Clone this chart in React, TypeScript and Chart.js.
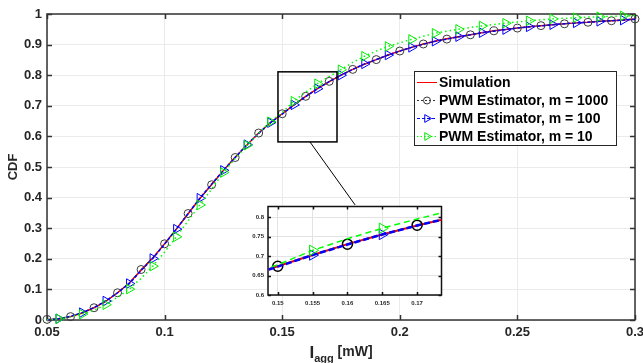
import React, { useEffect, useRef } from "react";
import { Chart, registerables } from "chart.js";
Chart.register(...registerables);

// ---------------- data ----------------
const xValues = [
  0.05, 0.055, 0.06, 0.065, 0.07, 0.075, 0.08, 0.085, 0.09, 0.095,
  0.1, 0.105, 0.11, 0.115, 0.12, 0.125, 0.13, 0.135, 0.14, 0.145,
  0.15, 0.155, 0.16, 0.165, 0.17, 0.175, 0.18, 0.185, 0.19, 0.195,
  0.2, 0.205, 0.21, 0.215, 0.22, 0.225, 0.23, 0.235, 0.24, 0.245,
  0.25, 0.255, 0.26, 0.265, 0.27, 0.275, 0.28, 0.285, 0.29, 0.295, 0.3,
];
const simulation = [
  0.0, 0.004, 0.011, 0.023, 0.04, 0.061, 0.089, 0.121, 0.163, 0.203,
  0.249, 0.297, 0.347, 0.397, 0.443, 0.489, 0.532, 0.572, 0.611, 0.645,
  0.674, 0.703, 0.731, 0.756, 0.779, 0.8, 0.819, 0.836, 0.851, 0.866,
  0.879, 0.891, 0.902, 0.911, 0.919, 0.926, 0.932, 0.939, 0.945, 0.949,
  0.954, 0.958, 0.962, 0.965, 0.968, 0.971, 0.973, 0.976, 0.978, 0.98, 0.983,
];
const pwm1000 = [
  0.002, 0.005, 0.011, 0.024, 0.04, 0.062, 0.089, 0.122, 0.165, 0.205,
  0.249, 0.298, 0.348, 0.396, 0.442, 0.488, 0.531, 0.571, 0.611, 0.644,
  0.674, 0.703, 0.731, 0.756, 0.78, 0.8, 0.819, 0.836, 0.851, 0.865,
  0.879, 0.891, 0.902, 0.91, 0.918, 0.925, 0.932, 0.939, 0.945, 0.95,
  0.954, 0.958, 0.962, 0.965, 0.968, 0.97, 0.973, 0.976, 0.978, 0.981, 0.984,
];
const pwm100 = [
  0.0, 0.004, 0.012, 0.024, 0.041, 0.062, 0.089, 0.119, 0.162, 0.201,
  0.248, 0.297, 0.348, 0.398, 0.444, 0.489, 0.531, 0.573, 0.61, 0.645,
  0.673, 0.703, 0.73, 0.756, 0.779, 0.8, 0.819, 0.837, 0.851, 0.866,
  0.879, 0.891, 0.901, 0.911, 0.918, 0.926, 0.932, 0.939, 0.944, 0.949,
  0.954, 0.958, 0.961, 0.965, 0.968, 0.971, 0.973, 0.976, 0.978, 0.98, 0.983,
];
const pwm10 = [
  0.0, 0.004, 0.01, 0.019, 0.032, 0.05, 0.074, 0.101, 0.136, 0.176,
  0.222, 0.272, 0.324, 0.376, 0.428, 0.482, 0.528, 0.571, 0.611, 0.648,
  0.678, 0.715, 0.745, 0.772, 0.796, 0.818, 0.842, 0.862, 0.879, 0.894,
  0.906, 0.917, 0.927, 0.937, 0.944, 0.95, 0.956, 0.961, 0.966, 0.97,
  0.974, 0.978, 0.981, 0.984, 0.986, 0.988, 0.99, 0.991, 0.992, 0.994, 0.995,
];
const seriesLabels = [
  "Simulation",
  "PWM Estimator, m = 1000",
  "PWM Estimator, m = 100",
  "PWM Estimator, m = 10",
];
const xTicks = [0.05, 0.1, 0.15, 0.2, 0.25, 0.3];
const yTicks = [0, 0.1, 0.2, 0.3, 0.4, 0.5, 0.6, 0.7, 0.8, 0.9, 1];
const insetXTicks = [0.15, 0.155, 0.16, 0.165, 0.17];
const insetYTicks = [0.6, 0.65, 0.7, 0.75, 0.8];
const insetXRange = [0.1486, 0.1735];
const insetYRange = [0.6, 0.828];
const zoomX = [0.1482, 0.1733];
const zoomY = [0.582, 0.811];
const connectorFrom = [0.1618, 0.582];
const connectorTo = [0.181, 0.376];
const yTitle = "CDF";
const xTitleMain = "I";
const xTitleSub = "agg";
const xTitleUnit = "[mW]";

// ---------------- helpers ----------------
const FONT = '"Liberation Sans", Arial, Helvetica, sans-serif';
const fmt = (v: number) => String(+(+v).toFixed(4));
const pts = (arr: number[]) => xValues.map((x, i) => ({ x, y: arr[i] }));

function drawMarker(ctx: CanvasRenderingContext2D, style: string, x: number, y: number, r: number) {
  ctx.beginPath();
  if (style === "circle") {
    ctx.arc(x, y, r, 0, Math.PI * 2);
  } else {
    for (let k = 0; k < 3; k++) {
      const a = (k * 2 * Math.PI) / 3;
      const px = x + r * Math.cos(a);
      const py = y + r * Math.sin(a);
      if (k === 0) ctx.moveTo(px, py);
      else ctx.lineTo(px, py);
    }
    ctx.closePath();
  }
  ctx.stroke();
}

function frame(tickLen: number, lw: number, color: string) {
  return {
    id: "frame",
    beforeDatasetsDraw(chart: any) {
      const { ctx, chartArea: a, scales } = chart;
      ctx.save();
      ctx.strokeStyle = color;
      ctx.lineWidth = lw;
      ctx.setLineDash([]);
      ctx.beginPath();
      for (const t of scales.x.ticks) {
        const px = Math.round(scales.x.getPixelForValue(t.value)) + 0.5;
        ctx.moveTo(px, a.bottom);
        ctx.lineTo(px, a.bottom - tickLen);
        ctx.moveTo(px, a.top);
        ctx.lineTo(px, a.top + tickLen);
      }
      for (const t of scales.y.ticks) {
        const py = Math.round(scales.y.getPixelForValue(t.value)) + 0.5;
        ctx.moveTo(a.left, py);
        ctx.lineTo(a.left + tickLen, py);
        ctx.moveTo(a.right, py);
        ctx.lineTo(a.right - tickLen, py);
      }
      ctx.stroke();
      ctx.strokeRect(a.left, a.top, a.right - a.left, a.bottom - a.top);
      ctx.restore();
    },
  };
}

const noPad = (s: any) => {
  s.paddingLeft = 0;
  s.paddingRight = 0;
  s.paddingTop = 0;
  s.paddingBottom = 0;
};

export default function App() {
  const mainRef = useRef<HTMLCanvasElement>(null);
  const insetRef = useRef<HTMLCanvasElement>(null);

  useEffect(() => {
    document.body.style.margin = "0";

    const datasetsFor = (inset: boolean) => [
      {
        label: seriesLabels[0],
        data: pts(simulation),
        borderColor: "#ff0000",
        borderWidth: inset ? 2 : 1.5,
        pointRadius: 0,
        order: 3,
      },
      {
        label: seriesLabels[1],
        data: pts(pwm1000),
        borderColor: "#333333",
        borderWidth: 1,
        borderDash: [4, 2, 1, 2],
        pointStyle: "circle",
        pointRadius: (c: any) => (c.dataIndex % 2 === 0 ? (inset ? 5 : 4) : 0),
        pointBorderColor: inset ? "#000000" : "#3a3a3a",
        pointBackgroundColor: "rgba(0,0,0,0)",
        pointBorderWidth: inset ? 1.5 : 1,
        order: 2,
      },
      {
        label: seriesLabels[2],
        data: pts(pwm100),
        borderColor: "#0000ff",
        borderWidth: inset ? 2.5 : 1.5,
        borderDash: inset ? [6, 3] : [3, 2],
        pointStyle: "triangle",
        rotation: 90,
        pointRotation: 90,
        pointRadius: (c: any) => (c.dataIndex % 2 === 1 ? (inset ? 6 : 5.5) : 0),
        pointBorderColor: "#0000ff",
        pointBackgroundColor: "rgba(0,0,0,0)",
        pointBorderWidth: 1,
        order: 1,
      },
      {
        label: seriesLabels[3],
        data: pts(pwm10),
        borderColor: "#00ff00",
        borderWidth: 1.5,
        borderDash: inset ? [6, 4] : [1.5, 3],
        pointStyle: "triangle",
        rotation: 90,
        pointRotation: 90,
        pointRadius: (c: any) => (c.dataIndex % 2 === 1 ? (inset ? 6 : 5.5) : 0),
        pointBorderColor: "#00ee00",
        pointBackgroundColor: "rgba(0,0,0,0)",
        pointBorderWidth: 1,
        order: 0,
      },
    ];

    const overlay = {
      id: "overlay",
      afterDatasetsDraw(chart: any) {
        const { ctx, chartArea: a, scales } = chart;
        const X = (v: number) => scales.x.getPixelForValue(v);
        const Y = (v: number) => scales.y.getPixelForValue(v);
        ctx.save();
        // zoom rectangle
        ctx.strokeStyle = "#000";
        ctx.lineWidth = 1.5;
        ctx.setLineDash([]);
        ctx.strokeRect(X(zoomX[0]), Y(zoomY[1]), X(zoomX[1]) - X(zoomX[0]), Y(zoomY[0]) - Y(zoomY[1]));
        ctx.lineWidth = 1;
        ctx.beginPath();
        ctx.moveTo(X(connectorFrom[0]), Y(connectorFrom[1]));
        ctx.lineTo(X(connectorTo[0]), Y(connectorTo[1]));
        ctx.stroke();

        // legend
        const bx = 414, by = 71, bw = 202, bh = 74;
        ctx.fillStyle = "#fff";
        ctx.fillRect(bx, by, bw, bh);
        ctx.strokeStyle = "#262626";
        ctx.lineWidth = 1;
        ctx.strokeRect(bx + 0.5, by + 0.5, bw, bh);
        const ds = chart.data.datasets;
        ctx.font = `bold 14px ${FONT}`;
        ctx.textBaseline = "middle";
        ctx.textAlign = "left";
        for (let i = 0; i < ds.length; i++) {
          const d = ds[i];
          const ry = by + 11 + i * 18;
          ctx.strokeStyle = d.borderColor;
          ctx.lineWidth = 1;
          ctx.setLineDash(i === 0 ? [] : i === 3 ? [1.5, 2] : i === 2 ? [3, 2] : [2, 2]);
          ctx.beginPath();
          ctx.moveTo(bx + 3, ry + 0.5);
          ctx.lineTo(bx + 23, ry + 0.5);
          ctx.stroke();
          ctx.setLineDash([]);
          if (i > 0) {
            ctx.strokeStyle = d.pointBorderColor;
            drawMarker(ctx, d.pointStyle, bx + 13, ry + 0.5, i === 1 ? 3.5 : 4.5);
          }
          ctx.fillStyle = "#000";
          ctx.fillText(d.label, bx + 25, ry + 1);
        }

        // axis titles
        ctx.fillStyle = "#262626";
        ctx.save();
        ctx.translate(13, (a.top + a.bottom) / 2);
        ctx.rotate(-Math.PI / 2);
        ctx.textAlign = "center";
        ctx.font = `bold 13px ${FONT}`;
        ctx.fillText(yTitle, 0, 0);
        ctx.restore();

        ctx.textBaseline = "alphabetic";
        const f1 = `bold 17px ${FONT}`;
        const f2 = `bold 11px ${FONT}`;
        const f3 = `bold 14px ${FONT}`;
        ctx.font = f1;
        const w1 = ctx.measureText(xTitleMain).width;
        ctx.font = f2;
        const w2 = ctx.measureText(xTitleSub).width;
        ctx.font = f3;
        const w3 = ctx.measureText(" " + xTitleUnit).width;
        let sx = (a.left + a.right) / 2 - (w1 + w2 + w3) / 2;
        ctx.font = f1;
        ctx.fillText(xTitleMain, sx, 358);
        sx += w1;
        ctx.font = f2;
        ctx.fillText(xTitleSub, sx, 362);
        sx += w2;
        ctx.font = f3;
        ctx.fillText(" " + xTitleUnit, sx, 356);
        ctx.restore();
      },
    };

    const tickFont = { family: FONT, size: 13, weight: "bold" as const };
    const main = new Chart(mainRef.current!, {
      type: "line",
      data: { datasets: datasetsFor(false) as any },
      options: {
        animation: false,
        responsive: false,
        devicePixelRatio: 1,
        layout: { padding: { top: 14, right: 8, left: 0, bottom: 0 } },
        plugins: { legend: { display: false }, tooltip: { enabled: false } },
        elements: { line: { tension: 0 } },
        datasets: { line: { clip: 6 } as any },
        scales: {
          x: {
            type: "linear",
            min: 0.05,
            max: 0.3,
            afterBuildTicks: (s: any) => {
              s.ticks = xTicks.map((v) => ({ value: v }));
            },
            afterFit: (s: any) => {
              s.height = 43;
              noPad(s);
            },
            ticks: {
              callback: (v: any) => fmt(v),
              font: tickFont,
              color: "#262626",
              padding: 5,
              maxRotation: 0,
              autoSkip: false,
            },
            grid: { color: "#ebebeb", drawTicks: false },
            border: { display: false },
          },
          y: {
            type: "linear",
            min: 0,
            max: 1,
            afterBuildTicks: (s: any) => {
              s.ticks = yTicks.map((v) => ({ value: v }));
            },
            afterFit: (s: any) => {
              s.width = 47;
              noPad(s);
            },
            ticks: {
              callback: (v: any) => fmt(v),
              font: tickFont,
              color: "#262626",
              padding: 5,
              autoSkip: false,
            },
            grid: { color: "#ebebeb", drawTicks: false },
            border: { display: false },
          },
        },
      },
      plugins: [frame(5, 1.5, "#333333"), overlay],
    });

    const insetBg = {
      id: "insetBg",
      beforeDraw(chart: any) {
        const { ctx, chartArea: a } = chart;
        ctx.save();
        ctx.fillStyle = "#fff";
        ctx.fillRect(a.left, a.top, a.right - a.left, a.bottom - a.top);
        ctx.restore();
      },
    };
    const smallFont = { family: FONT, size: 6, weight: "bold" as const };
    const inset = new Chart(insetRef.current!, {
      type: "line",
      data: { datasets: datasetsFor(true) as any },
      options: {
        animation: false,
        responsive: false,
        devicePixelRatio: 1,
        layout: { padding: { top: 5, right: 5, left: 0, bottom: 0 } },
        plugins: { legend: { display: false }, tooltip: { enabled: false } },
        elements: { line: { tension: 0 } },
        scales: {
          x: {
            type: "linear",
            min: insetXRange[0],
            max: insetXRange[1],
            afterBuildTicks: (s: any) => {
              s.ticks = insetXTicks.map((v) => ({ value: v }));
            },
            afterFit: (s: any) => {
              s.height = 15;
              noPad(s);
            },
            ticks: {
              callback: (v: any) => fmt(v),
              font: smallFont,
              color: "#262626",
              padding: 5,
              maxRotation: 0,
              autoSkip: false,
            },
            grid: { color: "#e3e3e3", drawTicks: false },
            border: { display: false },
          },
          y: {
            type: "linear",
            min: insetYRange[0],
            max: insetYRange[1],
            afterBuildTicks: (s: any) => {
              s.ticks = insetYTicks.map((v) => ({ value: v }));
            },
            afterFit: (s: any) => {
              s.width = 40;
              noPad(s);
            },
            ticks: {
              callback: (v: any) => fmt(v),
              font: smallFont,
              color: "#262626",
              padding: 4,
              autoSkip: false,
            },
            grid: { color: "#e3e3e3", drawTicks: false },
            border: { display: false },
          },
        },
      },
      plugins: [insetBg, frame(3, 1.5, "#111111")],
    });

    return () => {
      main.destroy();
      inset.destroy();
    };
  }, []);

  return (
    <div style={{ position: "relative", width: 643, height: 363, background: "#fff", overflow: "hidden" }}>
      <canvas
        ref={mainRef}
        width={643}
        height={363}
        style={{ position: "absolute", left: 0, top: 0, width: 643, height: 363 }}
      />
      <canvas
        ref={insetRef}
        width={220}
        height={110}
        style={{ position: "absolute", left: 228, top: 200, width: 220, height: 110 }}
      />
    </div>
  );
}
